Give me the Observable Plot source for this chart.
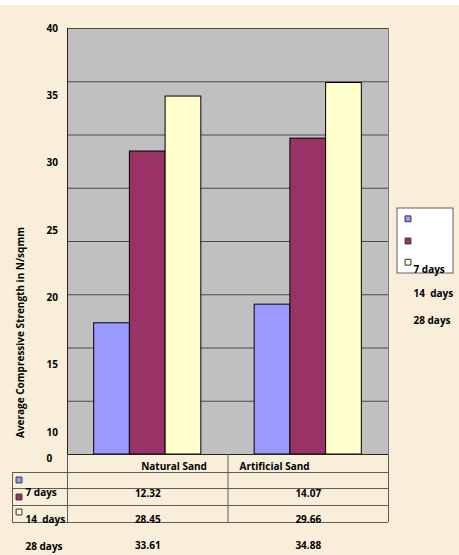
<!DOCTYPE html>
<html>
<head>
<meta charset="utf-8">
<script src="https://cdn.jsdelivr.net/npm/d3@7"></script>
<script src="https://cdn.jsdelivr.net/npm/@observablehq/plot@0.6"></script>
<style>
  html, body { margin: 0; padding: 0; background: #ffffff; }
  #chart { width: 459px; height: 555px; }
</style>
</head>
<body>
<div id="chart"></div>
<script>
// Compressive strength of concrete with natural vs artificial sand
const categories = ["Natural Sand", "Artificial Sand"];
const seriesNames = ["7 days", "14 days", "28 days"];
const tableRowLabels = ["7 days", "14  days", "28 days"];
const strength7 = [12.32, 14.07];
const strength14 = [28.45, 29.66];
const strength28 = [33.61, 34.88];
const yTickLabels = ["40", "35", "30", "25", "20", "15", "10", "0"];
const seriesColors = ["#9999ff", "#993366", "#ffffcc"];
const yTitle = "Average Compressive Strength in N/sqmm";

// Frame geometry (pixels)
const W = 459, H = 555, L = 67, R = 388, T = 28, B = 454;
const yMax = 40;
// pixel -> data helpers for placing the table and legend decorations
const toX = d3.scaleLinear([L, R], [0, categories.length]);
const toY = d3.scaleLinear([B, T], [0, yMax]);

const seriesValues = [strength7, strength14, strength28];
const barFrac = 0.2225;
const groupStart = (1 - seriesNames.length * barFrac) / 2;
const bars = seriesNames.flatMap((s, si) =>
  categories.map((c, ci) => ({
    series: s,
    category: c,
    value: seriesValues[si][ci],
    x1: ci + groupStart + si * barFrac,
    x2: ci + groupStart + (si + 1) * barFrac
  }))
);

// axis labels: seven spread evenly down from the top, "0" just under the baseline
const labelStep = 67.33;
const yLabels = yTickLabels.map((t, i) => ({
  text: t,
  y: i < yTickLabels.length - 1 ? toY(T + i * labelStep) : toY(B + 4)
}));

// data table below the plot
const tableLinesPx = [472, 488, 505, 522];
const rowStep = 26;
const tableValues = seriesNames.flatMap((s, si) =>
  categories.map((c, ci) => ({ x: ci + 0.5, y: toY(493.5 + si * rowStep), text: seriesValues[si][ci].toFixed(2) }))
);
const tableLabels = tableRowLabels.map((t, si) => ({ text: t, y: toY(492.5 + si * 27) }));
const tableSwatches = seriesNames.map((s, si) => ({ series: s, y: toY([479.5, 496.5, 511.5][si]) }));
const legendSwatches = seriesNames.map((s, si) => ({ series: s, y: toY([218.3, 240.5, 261.7][si]) }));
const legendLabels = seriesNames.map((s, si) => ({ text: tableRowLabels[si], y: toY([269, 293.5, 320.5][si]) }));

const font = { fontSize: 10, fontWeight: 700, fill: "#000" };
const lineColor = "#5e5e5e";

const chart = Plot.plot({
  width: W,
  height: H,
  marginLeft: L,
  marginRight: W - R,
  marginTop: T,
  marginBottom: H - B,
  style: {
    fontFamily: "'Open Sans', 'DejaVu Sans', sans-serif",
    fontSize: "10px",
    background: "linear-gradient(#ffffff 0 5px, #f8eed9 5px)",
    color: "#000"
  },
  x: { domain: [0, categories.length], axis: null },
  y: { domain: [0, yMax], axis: null },
  color: { domain: seriesNames, range: seriesColors },
  marks: [
    Plot.frame({ fill: "#c0c0c0" }),
    Plot.gridY(d3.range(5, yMax + 1, 5), { stroke: "#4a4a4a", strokeOpacity: 1 }),
    Plot.ruleX([categories.length], { y1: 0, y2: yMax, stroke: "#7a7a7a" }),
    Plot.rect(bars, { x1: "x1", x2: "x2", y1: 0, y2: "value", fill: "series", stroke: "#000", strokeWidth: 1 }),
    Plot.ruleX([0], { y1: 0, y2: yMax, stroke: "#222" }),
    Plot.ruleY([0], { x1: 0, x2: categories.length, stroke: "#222" }),

    // value axis labels and title
    Plot.text(yLabels, { x: toX(46), y: "y", text: "text", textAnchor: "start", ...font }),
    Plot.text([yTitle], { x: toX(20), y: toY(332), text: d => d, rotate: -90, ...font }),

    // data table
    Plot.ruleX(d3.range(categories.length + 1), { y1: 0, y2: toY(522), stroke: lineColor }),
    Plot.ruleX([toX(12)], { y1: toY(472), y2: toY(522), stroke: lineColor }),
    Plot.ruleY(tableLinesPx.map(p => toY(p)), { x1: toX(12), x2: categories.length, stroke: lineColor }),
    Plot.text([categories[0]], { x: toX(173.5), y: toY(466.5), text: d => d, ...font }),
    Plot.text([categories[1]], { x: toX(239), y: toY(466.5), text: d => d, textAnchor: "start", ...font }),
    Plot.text(tableValues, { x: "x", y: "y", text: "text", ...font }),
    Plot.text(tableLabels, { x: toX(25), y: "y", text: "text", textAnchor: "start", ...font }),
    Plot.dot(tableSwatches, { x: toX(18.5), y: "y", symbol: "square", r: 3.3, fill: "series", stroke: "#333", strokeWidth: 1 }),

    // legend
    Plot.rect([0], { x1: toX(397), x2: toX(453), y1: toY(273), y2: toY(208), fill: "#ffffff", stroke: lineColor }),
    Plot.dot(legendSwatches, { x: toX(407.5), y: "y", symbol: "square", r: 3.3, fill: "series", stroke: "#333", strokeWidth: 1 }),
    Plot.text(legendLabels, { x: toX(413), y: "y", text: "text", textAnchor: "start", ...font })
  ]
});

document.getElementById("chart").append(chart);
</script>
</body>
</html>
